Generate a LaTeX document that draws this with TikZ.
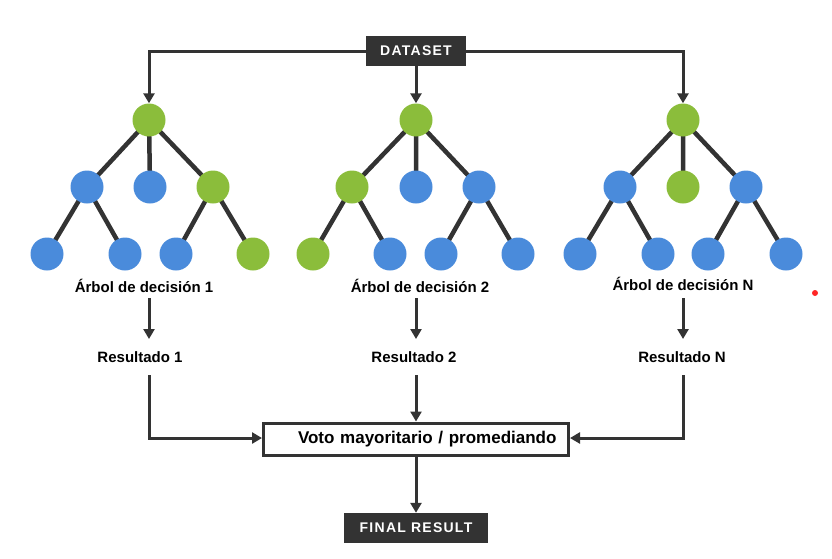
\documentclass[tikz,border=0pt]{standalone}
\usepackage{fontspec}
\setmainfont{Liberation Sans}
\usetikzlibrary{arrows.meta,backgrounds}
\definecolor{dk}{HTML}{333333}
\definecolor{gr}{HTML}{8BBD3B}
\definecolor{bl}{HTML}{4A8BDB}
\tikzset{
  gn/.style={circle,fill=gr,minimum size=33pt,inner sep=0pt},
  bn/.style={circle,fill=bl,minimum size=33pt,inner sep=0pt},
  edge/.style={draw=dk,line width=4.5pt},
  conn/.style={draw=dk,line width=3pt,-{Triangle[width=11pt,length=10pt]}},
  darkbox/.style={fill=dk,text=white,font=\bfseries\fontsize{14}{16}\selectfont\addfontfeature{LetterSpace=9},minimum height=30pt,inner xsep=14pt},
  lbl/.style={font=\bfseries\fontsize{15}{17}\selectfont,text=black},
}
\begin{document}
\begin{tikzpicture}[x=1pt,y=-1pt]
\useasboundingbox (0,0) rectangle (832,558);
% dataset
\node[darkbox] (ds) at (416,51) {DATASET};
% tree 1
\node[gn] (r1) at (149,120) {};
\node[bn] (a1) at (87,187) {};
\node[bn] (b1) at (150,187) {};
\node[gn] (c1) at (213,187) {};
\node[bn] (d1) at (47,254) {};
\node[bn] (e1) at (125,254) {};
\node[bn] (f1) at (176,254) {};
\node[gn] (g1) at (253,254) {};
% tree 2
\node[gn] (r2) at (416,120) {};
\node[gn] (a2) at (352,187) {};
\node[bn] (b2) at (416,187) {};
\node[bn] (c2) at (479,187) {};
\node[gn] (d2) at (313,254) {};
\node[bn] (e2) at (390,254) {};
\node[bn] (f2) at (441,254) {};
\node[bn] (g2) at (518,254) {};
% tree 3
\node[gn] (r3) at (683,120) {};
\node[bn] (a3) at (620,187) {};
\node[gn] (b3) at (683,187) {};
\node[bn] (c3) at (746,187) {};
\node[bn] (d3) at (580,254) {};
\node[bn] (e3) at (658,254) {};
\node[bn] (f3) at (708,254) {};
\node[bn] (g3) at (786,254) {};
% edges behind the circles
\begin{pgfonlayer}{background}
\foreach \t in {1,2,3}{
  \path[edge] (r\t.center) -- (a\t.center) (r\t.center) -- (b\t.center) (r\t.center) -- (c\t.center)
              (a\t.center) -- (d\t.center) (a\t.center) -- (e\t.center) (c\t.center) -- (f\t.center) (c\t.center) -- (g\t.center);
}
\end{pgfonlayer}
% labels
\node[lbl] (t1) at (144,286) {Árbol de decisión 1};
\node[lbl] (t2) at (420,286) {Árbol de decisión 2};
\node[lbl] (t3) at (683,284) {Árbol de decisión N};
\node[lbl] (s1) at (140,357) {Resultado 1};
\node[lbl] (s2) at (414,357) {Resultado 2};
\node[lbl] (s3) at (682,357) {Resultado N};
% vote
\node[draw=dk,line width=3pt,minimum width=305pt,minimum height=32pt,inner xsep=12pt,text width=281pt,align=right,font=\bfseries\fontsize{17}{19}\selectfont] (v) at (416,439) {Voto mayoritario / promediando};
\node[darkbox,minimum width=144pt] (fr) at (416,528) {FINAL RESULT};
% connectors
\coordinate (k1) at (149,51);
\coordinate (k3) at (683,51);
\draw[conn] (ds.west) -- (k1) -- (r1.north);
\draw[conn] (ds.east) -- (k3) -- (r3.north);
\draw[conn] (ds.south) -- (r2.north);
\coordinate (p1) at (149,298); \coordinate (q1) at (149,339);
\coordinate (p2) at (416,298); \coordinate (q2) at (416,339);
\coordinate (p3) at (683,298); \coordinate (q3) at (683,339);
\draw[conn] (p1) -- (q1);
\draw[conn] (p2) -- (q2);
\draw[conn] (p3) -- (q3);
\coordinate (u1) at (149,375); \coordinate (m1) at (149,438);
\coordinate (u2) at (416,375);
\coordinate (u3) at (683,375); \coordinate (m3) at (683,438);
\draw[conn] (u1) -- (m1) -- (v.west |- m1);
\draw[conn] (u3) -- (m3) -- (v.east |- m3);
\draw[conn] (u2) -- (v.north -| u2);
\draw[conn] (v.south) -- (fr.north);
% red dot
\fill[red!85!white] (815,293) circle (3pt);
\end{tikzpicture}
\end{document}
